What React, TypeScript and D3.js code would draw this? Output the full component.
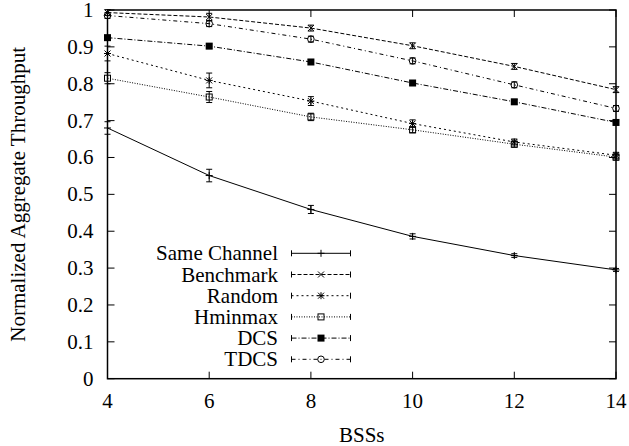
import React from "react";
import * as d3 from "d3";

// x values (number of BSSs)
const bss = [4, 6, 8, 10, 12, 14];

// series values
const sameChannel = [0.68, 0.551, 0.459, 0.386, 0.334, 0.295];
const benchmark = [0.993, 0.981, 0.951, 0.903, 0.847, 0.784];
const random = [0.882, 0.809, 0.753, 0.692, 0.642, 0.606];
const hminmax = [0.815, 0.764, 0.71, 0.675, 0.636, 0.601];
const dcs = [0.925, 0.902, 0.859, 0.802, 0.751, 0.695];
const tdcs = [0.985, 0.963, 0.921, 0.862, 0.797, 0.733];

// error bar half widths
const sameChannelErr = [0.017, 0.017, 0.011, 0.007, 0.005, 0.004];
const benchmarkErr = [0.008, 0.01, 0.008, 0.008, 0.008, 0.008];
const randomErr = [0.02, 0.02, 0.012, 0.01, 0.008, 0.008];
const hminmaxErr = [0.015, 0.015, 0.01, 0.008, 0.008, 0.008];
const dcsErr = [0.006, 0.006, 0.006, 0.006, 0.006, 0.006];
const tdcsErr = [0.008, 0.008, 0.008, 0.008, 0.008, 0.008];

const seriesNames = ["Same Channel", "Benchmark", "Random", "Hminmax", "DCS", "TDCS"];

const xTicks = [4, 6, 8, 10, 12, 14];
const yTicks = [0, 0.1, 0.2, 0.3, 0.4, 0.5, 0.6, 0.7, 0.8, 0.9, 1];

const FONT = "Liberation Serif";
const FS = 21;

const w = 629;
const h = 446;
const x = d3.scaleLinear().domain([4, 14]).range([107.5, 616]);
const y = d3.scaleLinear().domain([0, 1]).range([378.7, 10]);

const series = [
  { name: seriesNames[0], values: sameChannel, err: sameChannelErr, dash: undefined, mark: "plus" },
  { name: seriesNames[1], values: benchmark, err: benchmarkErr, dash: "4,2", mark: "cross" },
  { name: seriesNames[2], values: random, err: randomErr, dash: "2,3", mark: "star" },
  { name: seriesNames[3], values: hminmax, err: hminmaxErr, dash: "1,1.5", mark: "square" },
  { name: seriesNames[4], values: dcs, err: dcsErr, dash: "5,2,1,2", mark: "fsquare" },
  { name: seriesNames[5], values: tdcs, err: tdcsErr, dash: "4,3,1,3", mark: "circle" },
];

const Mark = ({ kind, cx, cy }) => (
  <g transform={`translate(${cx},${cy})`} stroke="#000" strokeWidth={1}>
    {(kind === "plus" || kind === "star") && <path d="M-3.5,0H3.5M0,-3.5V3.5" />}
    {(kind === "cross" || kind === "star") && <path d="M-3,-3L3,3M-3,3L3,-3" />}
    {kind === "square" && <rect x={-3} y={-3} width={6} height={6} fill="none" />}
    {kind === "fsquare" && <rect x={-3.5} y={-3.5} width={7} height={7} fill="#000" stroke="none" />}
    {kind === "circle" && <circle r={3.3} fill="none" />}
  </g>
);

const line = d3.line<number>().x((d, i) => x(bss[i])).y((d) => y(d));

const App = () => (
  <svg width={w} height={h} style={{ position: "absolute", left: 0, top: 0, display: "block", background: "#fff" }}>
    <g fontFamily={FONT} fontSize={FS} fill="#000">
      {/* ticks, inside and mirrored */}
      <g stroke="#000" strokeWidth={1}>
        {xTicks.map((t) => (
          <g key={`xt${t}`}>
            <line x1={x(t)} x2={x(t)} y1={y(0)} y2={y(0) - 7} />
            <line x1={x(t)} x2={x(t)} y1={y(1)} y2={y(1) + 7} />
          </g>
        ))}
        {yTicks.map((t) => (
          <g key={`yt${t}`}>
            <line x1={x(4)} x2={x(4) + 7} y1={y(t)} y2={y(t)} />
            <line x1={x(14)} x2={x(14) - 7} y1={y(t)} y2={y(t)} />
          </g>
        ))}
      </g>

      {/* tick labels */}
      {yTicks.map((t) => (
        <text key={`yl${t}`} x={93.5} y={y(t) + 7} textAnchor="end">
          {String(t)}
        </text>
      ))}
      {xTicks.map((t) => (
        <text key={`xl${t}`} x={x(t)} y={408} textAnchor="middle">
          {String(t)}
        </text>
      ))}

      {/* axis titles */}
      <text x={(x(4) + x(14)) / 2} y={442} textAnchor="middle">BSSs</text>
      <text transform={`translate(25,${(y(0) + y(1)) / 2}) rotate(-90)`} textAnchor="middle">
        Normalized Aggregate Throughput
      </text>

      {/* series with error bars */}
      {series.map((s) => (
        <g key={s.name}>
          <path d={line(s.values)} fill="none" stroke="#000" strokeWidth={1} strokeDasharray={s.dash} />
          {s.values.map((v, i) => {
            const cx = x(bss[i]);
            const lo = y(v - s.err[i]);
            const hi = y(v + s.err[i]);
            return (
              <g key={i}>
                <path
                  d={`M${cx},${lo}V${hi}M${cx - 3},${lo}H${cx + 3}M${cx - 3},${hi}H${cx + 3}`}
                  stroke="#000"
                  strokeWidth={1}
                  fill="none"
                />
                <Mark kind={s.mark} cx={cx} cy={y(v)} />
              </g>
            );
          })}
        </g>
      ))}

      {/* legend */}
      {series.map((s, i) => {
        const ly = 253.3 + i * 21.2;
        return (
          <g key={`lg${s.name}`}>
            <text x={278} y={ly + 7} textAnchor="end">{s.name}</text>
            <path d={`M291.5,${ly}H350.5`} stroke="#000" strokeWidth={1} strokeDasharray={s.dash} />
            <path d={`M291.5,${ly - 3}V${ly + 3}M350.5,${ly - 3}V${ly + 3}`} stroke="#000" strokeWidth={1} />
            <Mark kind={s.mark} cx={321} cy={ly} />
          </g>
        );
      })}

      {/* border */}
      <rect x={x(4)} y={y(1)} width={x(14) - x(4)} height={y(0) - y(1)} fill="none" stroke="#000" strokeWidth={1.5} />
    </g>
  </svg>
);

export default App;
